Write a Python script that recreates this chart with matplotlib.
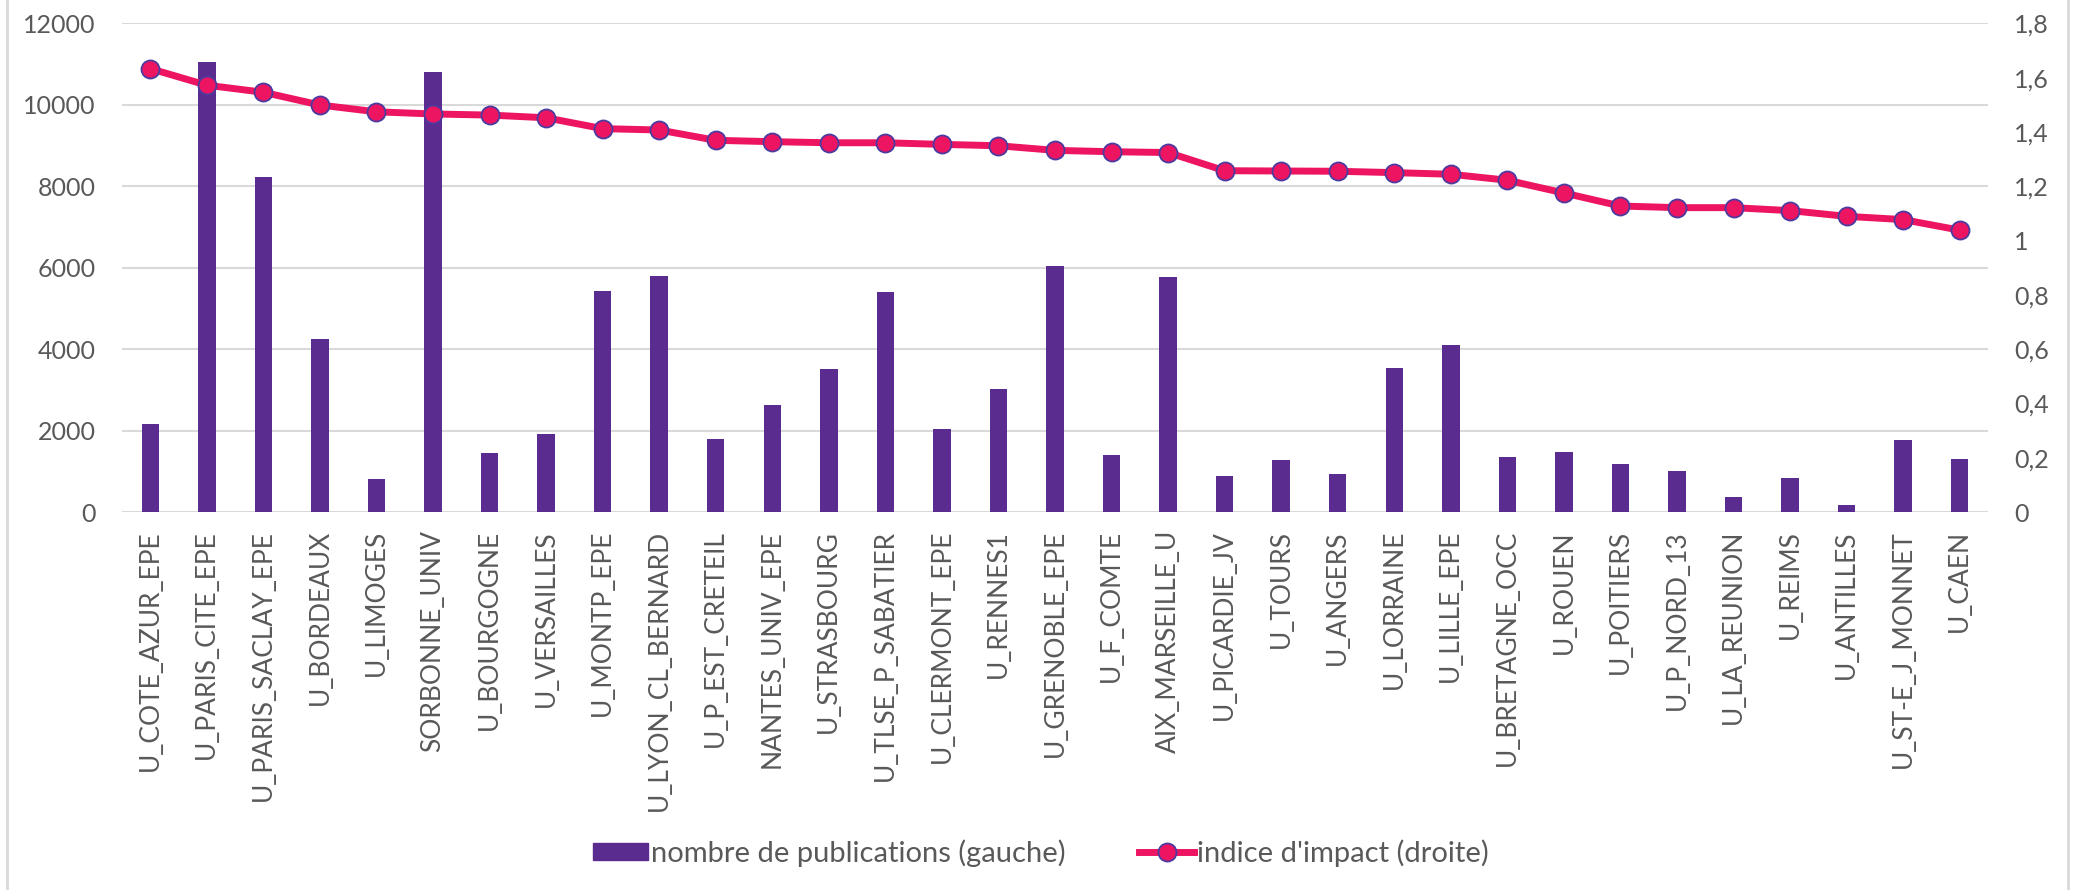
import matplotlib.pyplot as plt
import numpy as np
from matplotlib.lines import Line2D
from matplotlib.patches import Patch

plt.rcParams['font.family'] = ['Lato', 'DejaVu Sans']

universites = ["U_COTE_AZUR_EPE", "U_PARIS_CITE_EPE", "U_PARIS_SACLAY_EPE", "U_BORDEAUX",
               "U_LIMOGES", "SORBONNE_UNIV", "U_BOURGOGNE", "U_VERSAILLES", "U_MONTP_EPE",
               "U_LYON_CL_BERNARD", "U_P_EST_CRETEIL", "NANTES_UNIV_EPE", "U_STRASBOURG",
               "U_TLSE_P_SABATIER", "U_CLERMONT_EPE", "U_RENNES1", "U_GRENOBLE_EPE",
               "U_F_COMTE", "AIX_MARSEILLE_U", "U_PICARDIE_JV", "U_TOURS", "U_ANGERS",
               "U_LORRAINE", "U_LILLE_EPE", "U_BRETAGNE_OCC", "U_ROUEN", "U_POITIERS",
               "U_P_NORD_13", "U_LA_REUNION", "U_REIMS", "U_ANTILLES", "U_ST-E_J_MONNET",
               "U_CAEN"]

publications = [2170, 11060, 8230, 4250, 810, 10810, 1460, 1910, 5430, 5790,
                1790, 2630, 3500, 5390, 2030, 3030, 6030, 1410, 5780, 890,
                1270, 940, 3530, 4090, 1360, 1470, 1180, 1000, 370, 830,
                180, 1770, 1310]

impact = [1.633, 1.572, 1.546, 1.499, 1.474, 1.466, 1.462, 1.452, 1.412, 1.407,
          1.369, 1.364, 1.360, 1.360, 1.354, 1.349, 1.332, 1.327, 1.324, 1.257,
          1.256, 1.255, 1.250, 1.244, 1.222, 1.175, 1.127, 1.121, 1.121, 1.110,
          1.089, 1.077, 1.038]

violet = '#5B2C8F'
rose = '#ED1561'
gris = '#595959'

fig = plt.figure(figsize=(20.78, 8.90), dpi=100)
W, H = 2078, 890
ax = fig.add_axes([122 / W, 1 - 512 / H, (1988 - 122) / W, (512 - 23.3) / H])

x = np.arange(len(universites))
ax.bar(x, publications, width=0.31, color=violet, zorder=2)
ax.set_xlim(-0.5, len(universites) - 0.5)
ax.set_ylim(0, 12000)
ax.set_yticks(np.arange(0, 12001, 2000))
ax.set_xticks(x)
ax.set_xticklabels(universites, rotation=90)
ax.grid(axis='y', color='#D9D9D9', lw=1.5, zorder=0)
for s in ax.spines.values():
    s.set_visible(False)
ax.tick_params(axis='y', length=0, pad=19, labelsize=18, labelcolor=gris)
ax.tick_params(axis='x', length=0, pad=13, labelsize=19, labelcolor=gris)

ax2 = ax.twinx()
ax2.plot(x, impact, color=rose, lw=5, marker='o', ms=13, mfc=rose,
         mec='#4B3BA0', mew=1.3, zorder=3)
ax2.set_ylim(0, 1.8)
ax2.set_yticks(np.arange(0, 1.81, 0.2))
ax2.set_yticklabels([f"{v:g}".replace('.', ',') for v in np.round(np.arange(0, 1.81, 0.2), 1)])
for s in ax2.spines.values():
    s.set_visible(False)
ax2.tick_params(axis='y', length=0, pad=19, labelsize=18, labelcolor=gris)

handles = [Patch(color=violet),
           Line2D([], [], color=rose, lw=5, marker='o', ms=13, mfc=rose, mec='#4B3BA0', mew=1.3)]
labels = ["nombre de publications (gauche)", "indice d'impact (droite)"]
fig.legend(handles, labels, loc='center', bbox_to_anchor=(1041 / W, 1 - 853 / H), ncol=2,
           frameon=False, fontsize=21, labelcolor=gris, handlelength=1.9, handleheight=0.55,
           handletextpad=0.1, columnspacing=2.5)

# bordure du graphique
fig.add_artist(Line2D([6.7 / W, 6.7 / W], [0, 1], color='#D9D9D9', lw=2))
fig.add_artist(Line2D([2067.5 / W, 2067.5 / W], [0, 1], color='#D9D9D9', lw=2))

fig.savefig('out.png', dpi=100)
